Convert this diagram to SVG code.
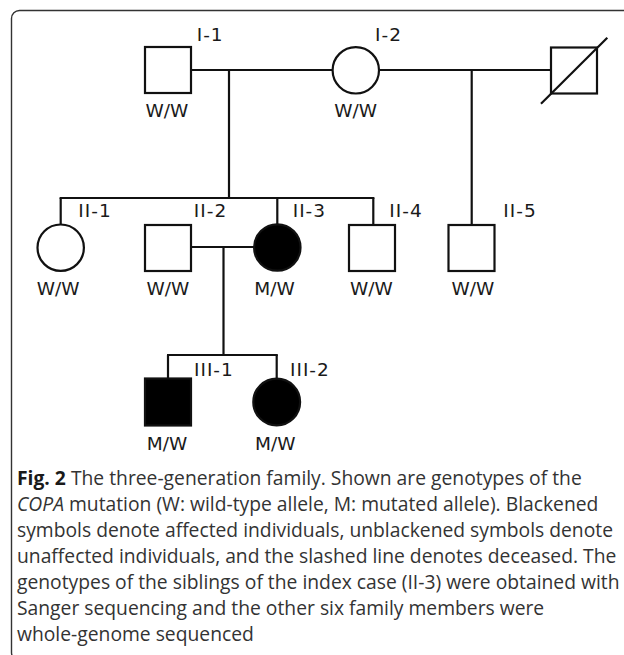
<svg xmlns="http://www.w3.org/2000/svg" width="624" height="655" viewBox="0 0 624 655">
<style>
.ln{stroke:#111;stroke-width:2.2;fill:none}
.sym{stroke:#111;stroke-width:2.2;fill:#fff}
.aff{stroke:#111;stroke-width:2.2;fill:#000}
.id{font-family:"DejaVu Sans",Verdana,sans-serif;font-size:18.5px;fill:#1a1a1a;letter-spacing:1px}
.gt{font-family:"DejaVu Sans",Verdana,sans-serif;font-size:18.5px;fill:#1a1a1a}
.cap{font-family:"Open Sans","Liberation Sans",sans-serif;font-size:19.3px;fill:#333}
.frame{stroke:#333;stroke-width:1.4;fill:none}
</style>
<rect class="frame" x="11.5" y="10.5" width="700" height="650" rx="8"/>
<g id="connectors">
<line class="ln" x1="191" y1="70" x2="332.7" y2="70"/>
<line class="ln" x1="379" y1="70" x2="551" y2="70"/>
<line class="ln" x1="229" y1="70" x2="229" y2="198"/>
<line class="ln" x1="471.7" y1="70" x2="471.7" y2="225"/>
<line class="ln" x1="59.6" y1="198" x2="374.4" y2="198"/>
<line class="ln" x1="60.7" y1="198" x2="60.7" y2="224.5"/>
<line class="ln" x1="277.3" y1="198" x2="277.3" y2="224.5"/>
<line class="ln" x1="373.3" y1="198" x2="373.3" y2="225"/>
<line class="ln" x1="191" y1="247" x2="254" y2="247"/>
<line class="ln" x1="223.5" y1="247" x2="223.5" y2="355"/>
<line class="ln" x1="167" y1="355" x2="277.8" y2="355"/>
<line class="ln" x1="168" y1="355" x2="168" y2="378.5"/>
<line class="ln" x1="276.7" y1="355" x2="276.7" y2="378.5"/>
</g>
<g id="I-1">
<rect class="sym" x="145" y="47" width="46" height="46"/>
<text class="id" x="196.7" y="40.5">I-1</text>
<text class="gt" x="145.5" y="116.7">W/W</text>
</g>
<g id="I-2">
<circle class="sym" cx="355.8" cy="70.3" r="23.2"/>
<text class="id" x="375" y="40.5">I-2</text>
<text class="gt" x="334.3" y="116.7">W/W</text>
</g>
<g id="I-3">
<rect class="sym" x="551" y="47.5" width="46" height="46"/>
<line class="ln" x1="541" y1="103.7" x2="607.3" y2="37.7"/>
</g>
<g id="II-1">
<circle class="sym" cx="60.7" cy="247.7" r="23.2"/>
<text class="id" x="78.3" y="217.3">II-1</text>
<text class="gt" x="36.7" y="295">W/W</text>
</g>
<g id="II-2">
<rect class="sym" x="145" y="225" width="46" height="46"/>
<text class="id" x="193.8" y="217.3">II-2</text>
<text class="gt" x="146.5" y="295">W/W</text>
</g>
<g id="II-3">
<circle class="aff" cx="277.3" cy="247.5" r="23.2"/>
<text class="id" x="292.7" y="217.3">II-3</text>
<text class="gt" x="254.3" y="295">M/W</text>
</g>
<g id="II-4">
<rect class="sym" x="349" y="225" width="46" height="46"/>
<text class="id" x="389.3" y="217.3">II-4</text>
<text class="gt" x="350" y="295">W/W</text>
</g>
<g id="II-5">
<rect class="sym" x="448.5" y="225" width="46" height="46"/>
<text class="id" x="503.3" y="217.3">II-5</text>
<text class="gt" x="451.5" y="295">W/W</text>
</g>
<g id="III-1">
<rect class="aff" x="145" y="378.5" width="46" height="47"/>
<text class="id" x="194" y="375.7">III-1</text>
<text class="gt" x="146.7" y="450">M/W</text>
</g>
<g id="III-2">
<circle class="aff" cx="276.7" cy="402" r="23.4"/>
<text class="id" x="290" y="375.7">III-2</text>
<text class="gt" x="255" y="450">M/W</text>
</g>
<g id="caption">
<text class="cap" x="17" y="485"><tspan font-weight="bold" fill="#1a1a1a">Fig. 2</tspan> The three-generation family. Shown are genotypes of the</text>
<text class="cap" x="17" y="511"><tspan font-style="italic">COPA</tspan> mutation (W: wild-type allele, M: mutated allele). Blackened</text>
<text class="cap" x="17" y="537">symbols denote affected individuals, unblackened symbols denote</text>
<text class="cap" x="17" y="563">unaffected individuals, and the slashed line denotes deceased. The</text>
<text class="cap" x="17" y="589">genotypes of the siblings of the index case (II-3) were obtained with</text>
<text class="cap" x="17" y="615">Sanger sequencing and the other six family members were</text>
<text class="cap" x="17" y="641">whole-genome sequenced</text>
</g>
</svg>
